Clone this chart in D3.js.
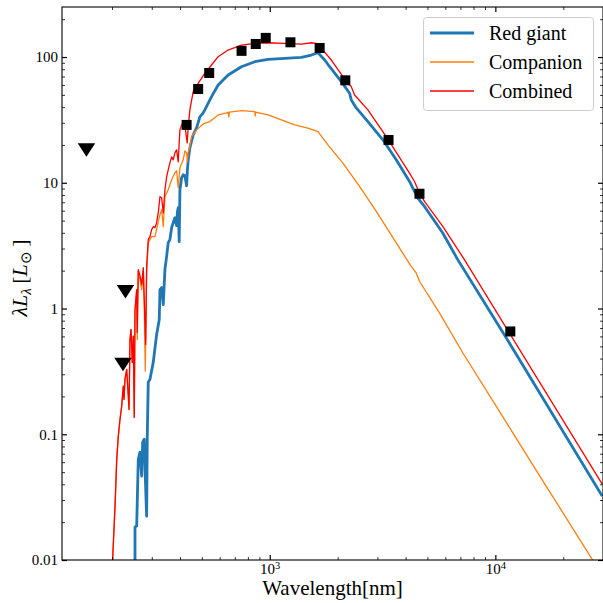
<!DOCTYPE html>
<html>
<head>
<meta charset="utf-8">
<script src="https://cdn.jsdelivr.net/npm/d3@7"></script>
<style>
  html, body { margin: 0; padding: 0; background: #fff; }
  svg { display: block; font-family: "Liberation Serif", "Times New Roman", serif; }
</style>
</head>
<body>
<svg id="chart" width="603" height="603"></svg>
<script>
// Model spectra: [wavelength (nm), λLλ (Lsun)]
const giantSpectrum = [
  [252.8,0.0083],[252.8,0.0183],[257.2,0.0186],[261.4,0.0633],[266.0,0.0720],[270.6,0.0464],
  [273.4,0.0864],[277.8,0.0913],[280.7,0.0464],[284.7,0.0223],[286.5,0.0964],[289.4,0.259],
  [294.4,0.273],[304.5,0.373],[315.3,0.622],[323.8,0.818],[326.1,1.415],[331.8,1.468],
  [337.3,1.076],[343.1,2.039],[349.1,2.601],[354.8,3.342],[361.0,3.528],[367.3,4.394],
  [373.4,4.814],[379.9,5.275],[386.6,4.557],[389.7,5.886],[392.9,6.335],[396.9,3.402],
  [399.8,8.799],[406.8,10.96],[413.5,11.57],[420.7,11.36],[428.0,9.467],[431.5,12.68],
  [435.1,15.22],[442.6,18.96],[457.7,24.04],[473.9,27.33],[490.1,33.41],[506.8,35.94],
  [515.6,37.97],[552.1,48.41],[590.5,59.95],[653.8,71.97],[749.5,83.75],[858.3,91.79],
  [982.9,95.9],[1165,97.6],[1381,99.45],[1529,103.7],[1636,108.2],[1752,94.68],
  [1843,83.75],[2076,63.68],[2259,51.52],[2299,45.58],[2418,39.38],[2723,30.66],
  [3172,21.95],[3636,15.22],[4164,10.24],[4381,8.531],[4532,7.561],[4851,6.485],
  [5846,3.989],[6811,2.448],[11150,0.5886],[29760,0.0322]
];

const companionSpectrum = [
  [201.4,0.008],[201.4,0.0105],[206.2,0.0268],[209.8,0.063],[213.2,0.0965],[216.9,0.131],
  [220.7,0.167],[224.3,0.240],[225.9,0.189],[228.2,0.272],[232.2,0.327],[236.1,0.200],
  [237.8,0.157],[240.2,0.565],[242.7,0.678],[245.9,0.371],[248.4,0.600],[250.9,0.136],
  [252.8,0.96],[257.2,1.38],[258.8,0.5675],[261.4,1.97],[266.0,1.70],[270.6,1.415],
  [275.1,1.97],[277.8,1.076],[280.7,0.318],[284.7,1.97],[289.4,3.342],[299.6,3.728],
  [309.9,3.728],[320.5,4.903],[326.1,5.572],[331.8,6.107],[337.3,4.475],[343.1,7.743],
  [354.8,8.799],[367.3,10.56],[379.9,12.01],[386.6,12.45],[392.9,9.128],[399.8,13.15],
  [413.5,15.22],[420.7,17.94],[428.0,17.30],[431.5,14.68],[435.1,17.62],[439.5,18.28],
  [450.3,23.31],[473.9,26.34],[506.8,29.39],[542.6,30.66],[590.5,34.65],[643.2,35.94],
  [653.8,36.41],[658.4,33.41],[663,36.41],[749.5,37.49],[858.3,36.81],[862.7,34.02],
  [866.8,36.4],[982.9,34.65],[1126.5,31.62],[1290,28.86],[1477,27.18],[1636,25.5],
  [1811,20.03],[2110,14.33],[2501,9.346],[2966,5.919],[3636,3.323],[4236,2.166],
  [4457,1.920],[4610,1.647],[5652,0.9244],[7167,0.4450],[11930,0.1032],[16760,0.03888],
  [26530,0.0105],[28860,0.00818]
];

const combinedSpectrum = [
  [201.4,0.008],[201.4,0.01056],[206.2,0.02698],[209.8,0.06333],[213.2,0.0969],[216.9,0.1315],
  [220.7,0.1677],[224.3,0.2416],[225.9,0.1896],[228.2,0.2732],[232.2,0.3281],[236.1,0.2014],
  [237.8,0.1579],[240.2,0.5675],[242.7,0.6813],[245.9,0.3727],[248.4,0.6028],[250.9,0.1365],
  [252.8,0.9819],[257.2,1.415],[258.4,0.645],[261.4,2.039],[266.0,1.828],[270.6,1.550],
  [275.1,2.115],[277.8,1.179],[281.8,0.5179],[284.7,2.154],[289.4,3.528],[294.4,3.728],
  [299.6,4.236],[304.5,4.475],[309.9,4.394],[315.3,4.814],[320.5,5.779],[326.1,7.743],
  [331.8,7.603],[337.3,5.779],[343.1,8.799],[349.1,11.16],[354.8,12.68],[361.0,14.41],
  [367.3,16.08],[373.4,15.22],[379.9,17.30],[386.6,18.28],[392.9,14.68],[396.9,20.78],
  [399.8,26.34],[406.8,28.86],[413.5,29.94],[420.7,28.34],[430.7,20.78],[435.1,27.83],
  [442.6,37.97],[457.7,53.05],[481.6,61.84],[515.6,74.23],[552.1,86.40],[590.5,100.6],
  [653.8,113.6],[749.5,124.5],[858.3,128.5],[982.9,129.9],[1165,128.5],[1381,126.8],
  [1529,129.9],[1610,128.5],[1694,117.2],[1875,94.68],[2110,69.79],[2299,58.12],
  [2377,49.94],[2723,37.97],[3284,23.31],[4164,11.94],[4381,10.24],[4610,8.285],
  [4851,7.106],[5846,4.500],[7292,2.448],[29760,0.0401]
];

// Photometry: detections and upper limits
const detections = [
  [428,28.86],[481.6,55.7],[539,74.7],[750,112],[867,127],[960,142],
  [1235,131],[1664,118],[2162,65.3],[3362,21.9],[4610,8.18],[11650,0.657]
];
const upperLimits = [[154.0,18.2],[229.3,1.357],[223.7,0.3595]];

const seriesNames = ["Red giant", "Companion", "Combined"];
const seriesColors = ["#1f77b4", "#ff7f0e", "#ff0000"];
const seriesWidths = [2.8, 1.3, 1.3];

const xMajorTicks = [1000, 10000];
const yMajorTicks = [0.01, 0.1, 1, 10, 100];
const yTickLabels = ["0.01", "0.1", "1", "10", "100"];

const svg = d3.select("#chart");
const plotLeft = 62, plotRight = 603, plotTop = 7, plotBottom = 560;

const x = d3.scaleLog().domain([120, 30000]).range([plotLeft, plotRight]);
const y = d3.scaleLog().domain([0.01, 250]).range([plotBottom, plotTop]);

function minorTicks(scale) {
  const [a, b] = scale.domain();
  const out = [];
  for (let e = Math.floor(Math.log10(a)); e <= Math.ceil(Math.log10(b)); e++) {
    for (let m = 2; m <= 9; m++) {
      const v = m * Math.pow(10, e);
      if (v > a && v < b) out.push(v);
    }
  }
  return out;
}
const xMinor = minorTicks(x);
const yMinor = minorTicks(y);

svg.append("defs").append("clipPath").attr("id", "plotClip")
  .append("rect").attr("x", plotLeft).attr("y", plotTop)
  .attr("width", plotRight - plotLeft).attr("height", plotBottom - plotTop);

const line = d3.line().x(d => x(d[0])).y(d => y(d[1]));
const plot = svg.append("g").attr("clip-path", "url(#plotClip)");

[giantSpectrum, companionSpectrum, combinedSpectrum].forEach((s, i) => {
  plot.append("path").datum(s)
    .attr("d", line)
    .attr("fill", "none")
    .attr("stroke", seriesColors[i])
    .attr("stroke-width", seriesWidths[i])
    .attr("stroke-linejoin", "round");
});

// Photometric points
const sq = 10;
plot.selectAll("rect.det").data(detections).join("rect")
  .attr("class", "det")
  .attr("x", d => x(d[0]) - sq / 2).attr("y", d => y(d[1]) - sq / 2)
  .attr("width", sq).attr("height", sq).attr("fill", "#000");

const tw = 17.5, th = 13.5;
plot.selectAll("path.lim").data(upperLimits).join("path")
  .attr("class", "lim")
  .attr("d", d => {
    const cx = x(d[0]), cy = y(d[1]);
    return `M${cx - tw / 2},${cy - th / 2}L${cx + tw / 2},${cy - th / 2}L${cx},${cy + th / 2}Z`;
  })
  .attr("fill", "#000");

// Axes with inward ticks on all four sides
function styleAxis(g, major) {
  g.select(".domain").remove();
  g.selectAll(".tick line").attr("stroke", "#000").attr("stroke-width", major ? 1.2 : 0.8);
  g.attr("font-family", null).attr("font-size", null);
}

const axes = svg.append("g");

// bottom
axes.append("g").attr("transform", `translate(0,${plotBottom})`)
  .call(d3.axisBottom(x).tickValues(xMinor).tickSize(-3).tickSizeOuter(0).tickFormat(""))
  .call(g => styleAxis(g, false));
const xb = axes.append("g").attr("transform", `translate(0,${plotBottom})`)
  .call(d3.axisBottom(x).tickValues(xMajorTicks).tickSize(-5).tickSizeOuter(0).tickPadding(3.5))
  .call(g => styleAxis(g, true));
xb.selectAll(".tick text").each(function(d) {
  const t = d3.select(this);
  t.text(null).attr("fill", "#000").attr("font-size", "15px");
  t.append("tspan").text("10");
  t.append("tspan").attr("dy", "-0.45em").attr("font-size", "10.5px").text(Math.round(Math.log10(d)));
});

// top
axes.append("g").attr("transform", `translate(0,${plotTop})`)
  .call(d3.axisTop(x).tickValues(xMinor).tickSize(-3).tickSizeOuter(0).tickFormat(""))
  .call(g => styleAxis(g, false));
axes.append("g").attr("transform", `translate(0,${plotTop})`)
  .call(d3.axisTop(x).tickValues(xMajorTicks).tickSize(-5).tickSizeOuter(0).tickFormat(""))
  .call(g => styleAxis(g, true));

// left
axes.append("g").attr("transform", `translate(${plotLeft},0)`)
  .call(d3.axisLeft(y).tickValues(yMinor).tickSize(-3).tickSizeOuter(0).tickFormat(""))
  .call(g => styleAxis(g, false));
axes.append("g").attr("transform", `translate(${plotLeft},0)`)
  .call(d3.axisLeft(y).tickValues(yMajorTicks).tickSize(-5).tickSizeOuter(0).tickPadding(4)
    .tickFormat((d, i) => yTickLabels[i]))
  .call(g => styleAxis(g, true))
  .call(g => g.selectAll(".tick text").attr("fill", "#000").attr("font-size", "15px"));

// right
axes.append("g").attr("transform", `translate(${plotRight},0)`)
  .call(d3.axisRight(y).tickValues(yMinor).tickSize(-3).tickSizeOuter(0).tickFormat(""))
  .call(g => styleAxis(g, false));
axes.append("g").attr("transform", `translate(${plotRight},0)`)
  .call(d3.axisRight(y).tickValues(yMajorTicks).tickSize(-5).tickSizeOuter(0).tickFormat(""))
  .call(g => styleAxis(g, true));

// frame
svg.append("rect")
  .attr("x", plotLeft).attr("y", plotTop).attr("width", plotRight - plotLeft).attr("height", plotBottom - plotTop)
  .attr("fill", "none").attr("stroke", "#000").attr("stroke-width", 1.1);

// axis titles
svg.append("text")
  .attr("x", (plotLeft + plotRight) / 2).attr("y", 595)
  .attr("text-anchor", "middle").attr("font-size", "21px").attr("fill", "#000")
  .text("Wavelength[nm]");

const yl = svg.append("text")
  .attr("transform", "translate(27,278) rotate(-90)")
  .attr("text-anchor", "middle").attr("font-size", "22px").attr("fill", "#000");
yl.append("tspan").attr("font-style", "italic").text("λL");
yl.append("tspan").attr("font-style", "italic").attr("font-size", "15px").attr("dy", "4").text("λ");
yl.append("tspan").attr("dy", "-4").text("\u2009[");
yl.append("tspan").attr("font-style", "italic").text("L");
yl.append("tspan").attr("font-size", "15px").attr("dy", "4").text("⊙");
yl.append("tspan").attr("dy", "-4").text("\u2009]");

// legend
const legend = svg.append("g");
legend.append("rect")
  .attr("x", 423.5).attr("y", 17.5).attr("width", 170).attr("height", 93).attr("rx", 3)
  .attr("fill", "#fff").attr("fill-opacity", 0.8).attr("stroke", "#cccccc").attr("stroke-width", 1);
seriesNames.forEach((name, i) => {
  const ly = 33 + i * 29;
  legend.append("line")
    .attr("x1", 430).attr("x2", 474).attr("y1", ly).attr("y2", ly)
    .attr("stroke", seriesColors[i]).attr("stroke-width", seriesWidths[i]);
  legend.append("text")
    .attr("x", 489).attr("y", ly).attr("dy", "0.35em")
    .attr("font-size", "20px").attr("fill", "#000").text(name);
});
</script>
</body>
</html>
